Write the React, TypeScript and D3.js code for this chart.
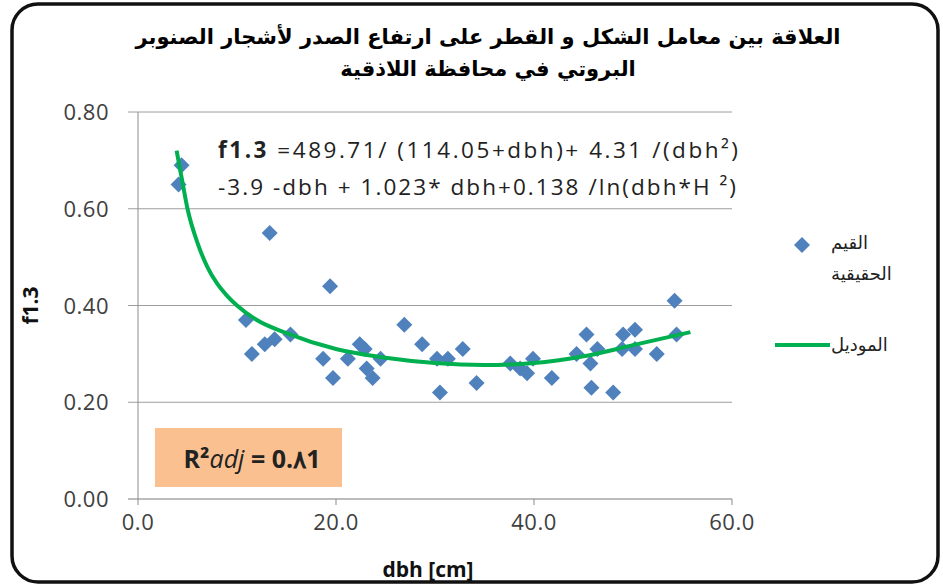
import React from "react";
import * as d3 from "d3";

const titleLines = [
  "العلاقة بين معامل الشكل و القطر على ارتفاع الصدر لأشجار الصنوبر",
  "البروتي في محافظة اللاذقية",
];
const obsX = [4.4, 4.1, 13.3, 19.4, 10.9, 11.5, 12.8, 13.8, 15.4, 18.7, 19.7, 21.2, 22.4, 22.9, 23.1, 23.7, 24.5, 26.9, 28.7, 30.2, 30.5, 31.3, 32.8, 34.2, 37.6, 38.6, 39.3, 39.9, 41.8, 44.3, 45.3, 45.7, 46.4, 45.8, 48.0, 48.9, 49.0, 50.2, 50.2, 52.4, 54.2, 54.4];
const obsY = [0.69, 0.65, 0.55, 0.44, 0.37, 0.30, 0.32, 0.33, 0.34, 0.29, 0.25, 0.29, 0.32, 0.31, 0.27, 0.25, 0.29, 0.36, 0.32, 0.29, 0.22, 0.29, 0.31, 0.24, 0.28, 0.27, 0.26, 0.29, 0.25, 0.30, 0.34, 0.28, 0.31, 0.23, 0.22, 0.31, 0.34, 0.35, 0.31, 0.30, 0.41, 0.34];
const modelX = [3.9, 4.4, 5, 6, 7, 8, 9, 10, 12, 15, 20, 25, 30, 35, 40, 45, 50, 55.8];
const modelY = [0.72, 0.665, 0.6, 0.53, 0.48, 0.445, 0.42, 0.4, 0.37, 0.343, 0.31, 0.292, 0.281, 0.277, 0.281, 0.295, 0.318, 0.345];
const xTicks = [0, 20, 40, 60];
const yTicks = [0, 0.2, 0.4, 0.6, 0.8];
const legendObs = ["القيم", "الحقيقية"];
const legendModel = "الموديل";

export default function App() {
  const x = d3.scaleLinear().domain([0, 60]).range([138, 732]);
  const y = d3.scaleLinear().domain([0, 0.8]).range([499, 112]);
  const line = d3
    .line<number>()
    .x((_, i) => x(modelX[i]))
    .y((d) => y(d))
    .curve(d3.curveMonotoneX);
  const diamond = (cx: number, cy: number, r: number) =>
    `M${cx},${cy - r}L${cx + r},${cy}L${cx},${cy + r}L${cx - r},${cy}Z`;
  const lab = "#404040";
  const latin = "'Open Sans', Lato, sans-serif";
  const arab = "'DejaVu Sans', sans-serif";
  return (
    <svg
      width={943}
      height={586}
      style={{ position: "absolute", left: 0, top: 0, background: "#fff" }}
    >
      <rect x={12} y={4} width={926} height={578} rx={26} fill="#fff" stroke="#111" strokeWidth={3.5} />
      {titleLines.map((t, i) => (
        <text key={i} x={488} y={44 + i * 32} textAnchor="middle" fontFamily={arab} fontWeight="bold" fontSize={21} fill="#000">
          {t}
        </text>
      ))}
      {yTicks.map((t) => (
        <g key={t}>
          <line x1={128} x2={732} y1={y(t)} y2={y(t)} stroke={t === 0 ? "#a6a6a6" : "#9e9e9e"} strokeWidth={t === 0 ? 1.5 : 1} />
          <text x={109} y={y(t) + 8} textAnchor="end" fontFamily={latin} fontSize={22} fill={lab} letterSpacing={0.5}>
            {t.toFixed(2)}
          </text>
        </g>
      ))}
      <line x1={138} x2={138} y1={112} y2={499} stroke="#8c8c8c" strokeWidth={1} />
      {xTicks.map((t) => (
        <g key={t}>
          <line x1={x(t)} x2={x(t)} y1={499} y2={505} stroke="#8c8c8c" />
          <text x={x(t)} y={530} textAnchor="middle" fontFamily={latin} fontSize={22} fill={lab} letterSpacing={0.5}>
            {t.toFixed(1)}
          </text>
        </g>
      ))}
      <text x={428} y={577} textAnchor="middle" fontFamily={latin} fontWeight="bold" fontSize={21} fill="#111">
        dbh [cm]
      </text>
      <text transform={`translate(38,${y(0.4)}) rotate(-90)`} textAnchor="middle" fontFamily={latin} fontWeight="bold" fontSize={21} fill="#111">
        f1.3
      </text>
      {obsX.map((v, i) => (
        <path key={i} d={diamond(x(v), y(obsY[i]), 8)} fill="#4f81bd" />
      ))}
      <path d={line(modelY) || ""} fill="none" stroke="#00b050" strokeWidth={4} />
      <text x={218} y={158} fontFamily={latin} fontSize={22.5} fill="#222" textLength={520} lengthAdjust="spacing">
        <tspan fontWeight="bold">f1.3</tspan> =489.71/ (114.05+dbh)+ 4.31 /(dbh²)
      </text>
      <text x={218} y={195} fontFamily={latin} fontSize={22.5} fill="#222" textLength={518} lengthAdjust="spacing">
        -3.9 -dbh + 1.023* dbh+0.138 /ln(dbh*H ²)
      </text>
      <rect x={155} y={428} width={187} height={59} fill="#fac090" />
      <text x={252} y={468} textAnchor="middle" fontFamily={latin} fontSize={25} fill="#222">
        <tspan fontWeight="bold">R²</tspan>
        <tspan fontStyle="italic">adj</tspan>
        <tspan fontWeight="bold"> = 0.٨1</tspan>
      </text>
      <path d={diamond(802, 245, 8)} fill="#4f81bd" />
      {legendObs.map((t, i) => (
        <text key={i} x={831} y={249 + i * 31} textAnchor="start" fontFamily={arab} fontSize={18} fill="#222">
          {t}
        </text>
      ))}
      <line x1={775} x2={830} y1={345} y2={345} stroke="#00b050" strokeWidth={4} />
      <text x={831} y={351} textAnchor="start" fontFamily={arab} fontSize={18} fill="#222">
        {legendModel}
      </text>
    </svg>
  );
}
